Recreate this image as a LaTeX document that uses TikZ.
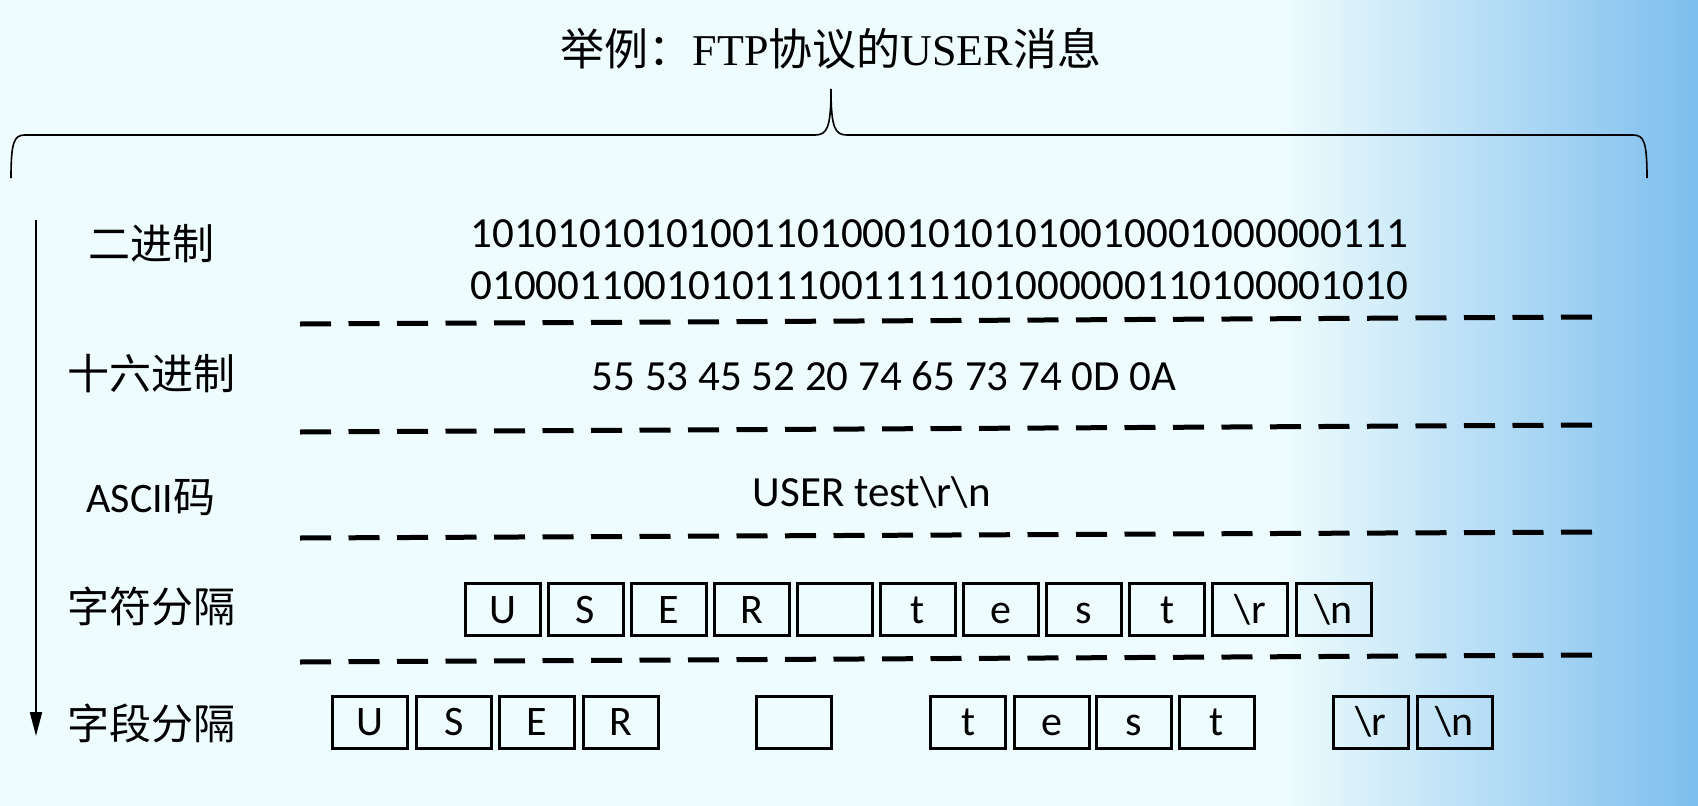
\documentclass[tikz,border=0pt]{standalone}
\usepackage{fontspec}
\setmainfont{Carlito}
\newfontfamily\cjk{Noto Sans CJK SC}
\newfontfamily\serifpart{Liberation Serif}
\usetikzlibrary{arrows.meta}
\definecolor{bgpale}{RGB}{238,252,253}
\definecolor{bgblue}{RGB}{125,190,238}

\begin{document}
\begin{tikzpicture}[
  x=1pt, y=-1pt,
  every node/.style={inner sep=0pt, font=\fontsize{42}{50}\selectfont},
  rowlabel/.style={font=\fontsize{42}{50}\selectfont\cjk},
  datatext/.style={font=\fontsize{43}{50}\selectfont, text height=27pt, text depth=0pt},
  cell/.style={draw, line width=3pt, minimum width=75pt, minimum height=52pt,
    text height=27pt, text depth=0pt},
  sepline/.style={line width=5pt, dash pattern=on 31pt off 17.5pt},
  brace/.style={line width=1.6pt}
]
% background
\fill[bgpale] (0,0) rectangle (1698,806);
\shade[left color=bgpale, right color=bgblue] (1280,0) rectangle (1698,806);
\useasboundingbox (0,0) rectangle (1698,806);

% title and brace
\node (title) at (831,49) {\fontsize{44}{50}\selectfont\cjk 举例：{\serifpart FTP}协议的{\serifpart USER}消息};
\draw[brace] (11,178) .. controls (11,142) and (14,135) .. (25,135) -- (815,135)
  .. controls (827,135) and (831,128) .. (831,89)
  .. controls (831,128) and (835,135) .. (847,135) -- (1633,135)
  .. controls (1644,135) and (1647,142) .. (1647,178);

% direction arrow
\coordinate (axtop) at (36,220);
\coordinate (axend) at (36,736);
\draw[line width=2pt, -{Triangle[length=24pt,width=12pt]}] (axtop) -- (axend);

% row labels
\node[rowlabel] (lbin)   at (151,244) {二进制};
\node[rowlabel] (lhex)   at (151,374) {十六进制};
\node[rowlabel] (lascii) at (151,498) {{\rmfamily ASCII}码};
\node[rowlabel] (lchar)  at (151,606) {字符分隔};
\node[rowlabel] (lfield) at (151,723) {字段分隔};

% data
\node[datatext] (binA)  at (939,234) {1010101010100110100010101010010001000000111};
\node[datatext] (binB)  at (939,286) {0100011001010111001111101000000110100001010};
\node[datatext] (hex)   at (884,377) {55 53 45 52 20 74 65 73 74 0D 0A};
\node[datatext] (ascii) at (872,493) {USER test\textbackslash r\textbackslash n};

% separators
\foreach \yl/\yr in {324/317, 432/425, 538/532, 662/655}
  \draw[sepline] (300,\yl) -- (1601,\yr);

% one box per character
\foreach \ch [count=\i] in {U,S,E,R,{},t,e,s,t,\textbackslash r,\textbackslash n}
  \node[cell] (c\i) at ({502.5+(\i-1)*83.1},609.5) {\ch};

% boxes grouped by field
\foreach \x/\ch [count=\i] in {370.4/U,453.8/S,537/E,620.6/R,793.9/{},968.2/t,1051.6/e,1134/s,1217/t,1371/\textbackslash r,1454.5/\textbackslash n}
  \node[cell] (f\i) at (\x,722) {\ch};
\end{tikzpicture}
\end{document}
